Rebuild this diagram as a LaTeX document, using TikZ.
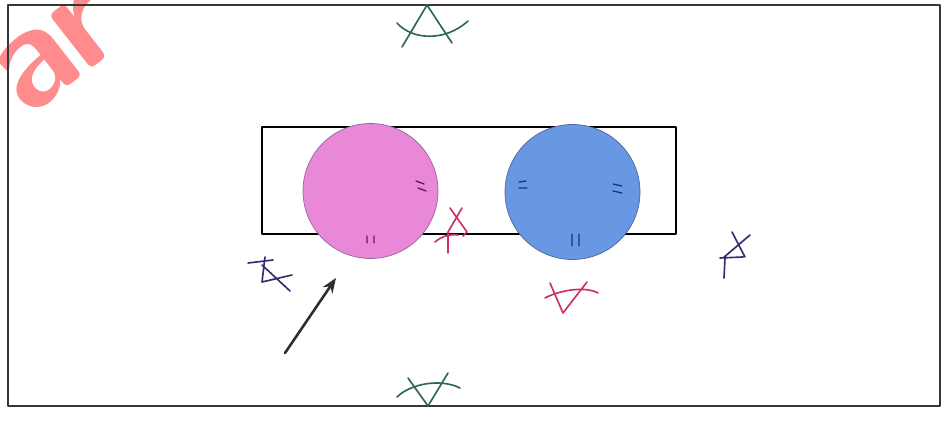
\documentclass[tikz,border=0pt]{standalone}
\usepackage{tikz}
\usetikzlibrary{arrows.meta}
\definecolor{arcgreen}{RGB}{45,105,80}
\definecolor{arcblue}{RGB}{50,45,110}
\definecolor{arcred}{RGB}{205,45,105}
\definecolor{diskpink}{RGB}{232,136,214}
\definecolor{pinkedge}{RGB}{150,100,160}
\definecolor{pinktick}{RGB}{90,30,80}
\definecolor{diskblue}{RGB}{104,152,228}
\definecolor{blueedge}{RGB}{80,100,150}
\definecolor{bluetick}{RGB}{35,50,110}
\definecolor{framegray}{RGB}{55,55,55}
\definecolor{arrowgray}{RGB}{50,45,45}
\definecolor{wmred}{RGB}{255,140,140}

\begin{document}
\begin{tikzpicture}[x=0.03cm, y=-0.03cm, line cap=round, line join=round,
	pencil/.style={line width=1.4pt},
	tickmark/.style={line width=1.1pt},
	disk/.style={circle, draw, line width=0.6pt, minimum size=4.05cm, inner sep=0pt}]
	\useasboundingbox (0,0) rectangle (948,423);
	% watermark
	\node[wmred, font=\sffamily\bfseries\fontsize{125}{125}\selectfont, rotate=38, inner sep=0pt] (wm) at (57,53) {ar};
	% court and box
	\draw[framegray, line width=1.6pt] (8,5) rectangle (940,406);
	\draw[line width=0.9pt] (262,127) rectangle (676,234);
	\node[disk, fill=diskpink, draw=pinkedge] (pink) at (370.5,191) {};
	\node[disk, fill=diskblue, draw=blueedge] (blue) at (572.5,192) {};
	% ticks on the disks
	\draw[tickmark, pinktick] (416,181) -- (424,184) (418,188) -- (426,191)
		(367,236) -- (367,243) (374,236) -- (374,243);
	\draw[tickmark, bluetick] (519,182) -- (526,181) (519,188) -- (527,188)
		(613,184) -- (622,186) (613,191) -- (622,193)
		(572,234) -- (572,246) (579,234) -- (579,246);
	% compass marks
	\draw[pencil, arcgreen] (402,47) -- (427,5) -- (452,43);
	\draw[pencil, arcgreen] (397,23) .. controls (412,40) and (445,42) .. (468,21);
	\draw[pencil, arcgreen] (408,378) -- (428,406) -- (448,373);
	\draw[pencil, arcgreen] (397,397) .. controls (410,384) and (440,378) .. (460,388);
	\draw[pencil, arcblue] (248,263) -- (273,260) (265,257) -- (262,282) -- (292,275)
		(262,265) -- (290,291);
	\draw[pencil, arcblue] (732,232) -- (745,257) (750,235) -- (723,258)
		(720,258) -- (743,257) (725,258) -- (724,278);
	\draw[pencil, arcred] (450,208) -- (467,232) -- (463,236) (462,208) -- (448,232) -- (448,253)
		(435,242) .. controls (442,236) and (450,234) .. (458,235);
	\draw[pencil, arcred] (550,283) -- (563,313) -- (587,282)
		(545,298) .. controls (560,290) and (585,286) .. (598,293);
	% arrow
	\coordinate (tail) at (285,353);
	\coordinate (tip) at (336,278);
	\draw[arrowgray, line width=2.2pt, -{Stealth[length=4.5mm, width=3.5mm]}] (tail) -- (tip);
\end{tikzpicture}
\end{document}
